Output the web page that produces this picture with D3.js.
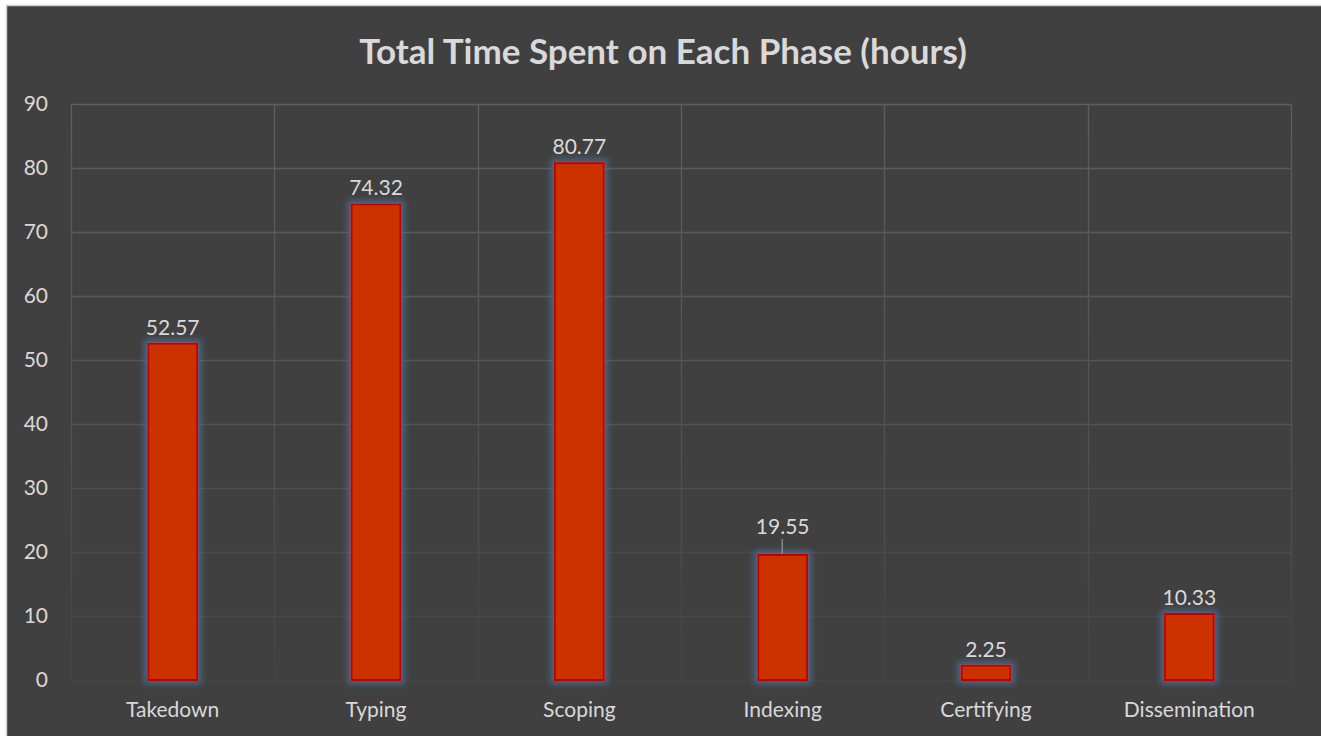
<!DOCTYPE html>
<html>
<head>
<meta charset="utf-8">
<script src="https://cdn.jsdelivr.net/npm/d3@7"></script>
<style>
  html, body { margin: 0; padding: 0; background: #ffffff; }
  svg { display: block; }
  text { font-family: Lato, "Open Sans", sans-serif; }
</style>
</head>
<body>
<svg id="chart" width="1321" height="736"></svg>
<script>
// data
const phases = ["Takedown", "Typing", "Scoping", "Indexing", "Certifying", "Dissemination"];
const hours = [52.57, 74.32, 80.77, 19.55, 2.25, 10.33];
const yTicks = [0, 10, 20, 30, 40, 50, 60, 70, 80, 90];
const chartTitle = "Total Time Spent on Each Phase (hours)";

const W = 1321, H = 736;
const margin = {top: 104, right: 30, bottom: 56, left: 71};

const svg = d3.select("#chart");

// chart background + thin border
svg.append("rect")
  .attr("x", 6.5).attr("y", 5.5)
  .attr("width", W).attr("height", H)
  .attr("fill", "#404040")
  .attr("stroke", "#d0d0d0")
  .attr("stroke-width", 1.5);

const defs = svg.append("defs");

// gridlines fade out toward the bottom
const grad = defs.append("linearGradient")
  .attr("id", "gridFade")
  .attr("gradientUnits", "userSpaceOnUse")
  .attr("x1", 0).attr("y1", margin.top)
  .attr("x2", 0).attr("y2", H - margin.bottom);
grad.append("stop").attr("offset", "0%").attr("stop-color", "#5e5e5e");
grad.append("stop").attr("offset", "55%").attr("stop-color", "#535353");
grad.append("stop").attr("offset", "100%").attr("stop-color", "#444444");

// soft blue glow around bars
const glow = defs.append("filter")
  .attr("id", "glow")
  .attr("x", "-50%").attr("y", "-50%")
  .attr("width", "200%").attr("height", "200%");
glow.append("feMorphology")
  .attr("in", "SourceAlpha").attr("operator", "dilate").attr("radius", 3)
  .attr("result", "dil");
glow.append("feGaussianBlur").attr("in", "dil").attr("stdDeviation", 3).attr("result", "blur");
glow.append("feFlood").attr("flood-color", "#4b6e92").attr("flood-opacity", 0.85);
glow.append("feComposite").attr("in2", "blur").attr("operator", "in").attr("result", "glowCol");
const merge = glow.append("feMerge");
merge.append("feMergeNode").attr("in", "glowCol");
merge.append("feMergeNode").attr("in", "SourceGraphic");

const x = d3.scaleBand()
  .domain(phases)
  .range([margin.left, W - margin.right])
  .paddingInner(0).paddingOuter(0);

const y = d3.scaleLinear()
  .domain([0, 90])
  .range([H - margin.bottom, margin.top]);

// horizontal gridlines
svg.append("g")
  .selectAll("line")
  .data(yTicks)
  .join("line")
  .attr("x1", margin.left).attr("x2", W - margin.right)
  .attr("y1", d => Math.round(y(d)) + 0.5)
  .attr("y2", d => Math.round(y(d)) + 0.5)
  .attr("stroke", "url(#gridFade)")
  .attr("stroke-width", 1.3);

// vertical gridlines at category edges
const edges = phases.map(p => x(p)).concat([x(phases[phases.length - 1]) + x.bandwidth()]);
svg.append("g")
  .selectAll("line")
  .data(edges)
  .join("line")
  .attr("x1", d => Math.round(d) + 0.5).attr("x2", d => Math.round(d) + 0.5)
  .attr("y1", margin.top).attr("y2", H - margin.bottom)
  .attr("stroke", "url(#gridFade)")
  .attr("stroke-width", 1.3);

// y axis
const yAxis = svg.append("g")
  .attr("transform", `translate(${margin.left - 23},0)`)
  .call(d3.axisLeft(y).tickValues(yTicks).tickSize(0).tickPadding(0));
yAxis.select(".domain").remove();
yAxis.selectAll("text")
  .attr("fill", "#d9d9d9")
  .style("font-size", "21px")
  .style("font-family", "Lato, sans-serif");

// x axis
const xAxis = svg.append("g")
  .attr("transform", `translate(0,${H - margin.bottom})`)
  .call(d3.axisBottom(x).tickSize(0).tickPadding(22));
xAxis.select(".domain").remove();
xAxis.selectAll("text")
  .attr("fill", "#d9d9d9")
  .style("font-size", "21px")
  .style("font-family", "Lato, sans-serif");

// bars
const barW = 49;
svg.append("g")
  .selectAll("rect")
  .data(phases)
  .join("rect")
  .attr("x", (d) => x(d) + x.bandwidth() / 2 - barW / 2)
  .attr("y", (d, i) => y(hours[i]))
  .attr("width", barW)
  .attr("height", (d, i) => y(0) - y(hours[i]))
  .attr("fill", "#cc3300")
  .attr("stroke", "#c00000")
  .attr("stroke-width", 2)
  .attr("filter", "url(#glow)");

// data labels (Indexing label sits higher with a leader line)
const labelLift = phases.map(p => p === "Indexing" ? 21 : 9);
svg.append("g")
  .selectAll("text")
  .data(phases)
  .join("text")
  .attr("x", d => x(d) + x.bandwidth() / 2)
  .attr("y", (d, i) => y(hours[i]) - labelLift[i])
  .attr("text-anchor", "middle")
  .attr("fill", "#d9d9d9")
  .style("font-size", "21px")
  .text((d, i) => hours[i].toFixed(2));

const idx = phases.indexOf("Indexing");
svg.append("line")
  .attr("x1", x("Indexing") + x.bandwidth() / 2 - 0.5)
  .attr("x2", x("Indexing") + x.bandwidth() / 2 - 0.5)
  .attr("y1", y(hours[idx]) - 16)
  .attr("y2", y(hours[idx]) - 1)
  .attr("stroke", "#a6a6a6")
  .attr("stroke-width", 1);

// title
svg.append("text")
  .attr("x", 663)
  .attr("y", 64)
  .attr("text-anchor", "middle")
  .attr("fill", "#d9d9d9")
  .style("font-size", "35px")
  .style("font-weight", "bold")
  .text(chartTitle);
</script>
</body>
</html>
